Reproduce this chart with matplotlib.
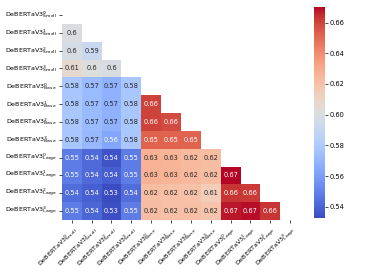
import numpy as np
import matplotlib
matplotlib.use("Agg")
import matplotlib.pyplot as plt
import seaborn as sns

labels = [r"DeBERTaV3$^{%d}_{\mathrm{%s}}$" % (i, s) for s in ["Small", "Base", "Large"] for i in range(4)]

# lower triangle, row by row (diagonal and above are masked)
rows = [
    [],
    [0.600],
    [0.598, 0.592],
    [0.606, 0.601, 0.599],
    [0.578, 0.572, 0.568, 0.578],
    [0.578, 0.572, 0.568, 0.578, 0.660],
    [0.578, 0.572, 0.568, 0.578, 0.660, 0.658],
    [0.578, 0.571, 0.563, 0.578, 0.652, 0.652, 0.652],
    [0.548, 0.542, 0.535, 0.548, 0.627, 0.626, 0.623, 0.622],
    [0.548, 0.542, 0.538, 0.548, 0.627, 0.626, 0.623, 0.622, 0.670],
    [0.543, 0.539, 0.533, 0.543, 0.622, 0.621, 0.620, 0.614, 0.663, 0.662],
    [0.548, 0.541, 0.534, 0.548, 0.622, 0.621, 0.621, 0.619, 0.668, 0.669, 0.663],
]

n = len(labels)
mat = np.zeros((n, n))
for i, r in enumerate(rows):
    for j, v in enumerate(r):
        mat[i, j] = v
mask = np.triu(np.ones((n, n), dtype=bool), k=0)

fig = plt.figure(figsize=(3.66, 2.74), dpi=100)
ax = fig.add_axes([0.169, 0.197, 0.651, 0.781])
cax = fig.add_axes([0.858, 0.204, 0.030, 0.771])

sns.heatmap(mat, mask=mask, cmap="coolwarm", annot=True, fmt=".2g",
            annot_kws={"size": 4.8}, xticklabels=labels, yticklabels=labels,
            vmin=0.5326, vmax=0.6702, ax=ax, cbar_ax=cax)

ax.tick_params(axis="both", labelsize=4.6, length=2, width=0.5, pad=1.5)
ax.set_xticklabels(labels, rotation=45, ha="right", rotation_mode="anchor")
ax.set_yticklabels(labels, rotation=0)
cax.tick_params(labelsize=4.8, length=2, width=0.5, pad=1.5)
cax.set_yticks([0.54, 0.56, 0.58, 0.60, 0.62, 0.64, 0.66])

fig.savefig("out.png", dpi=100)
